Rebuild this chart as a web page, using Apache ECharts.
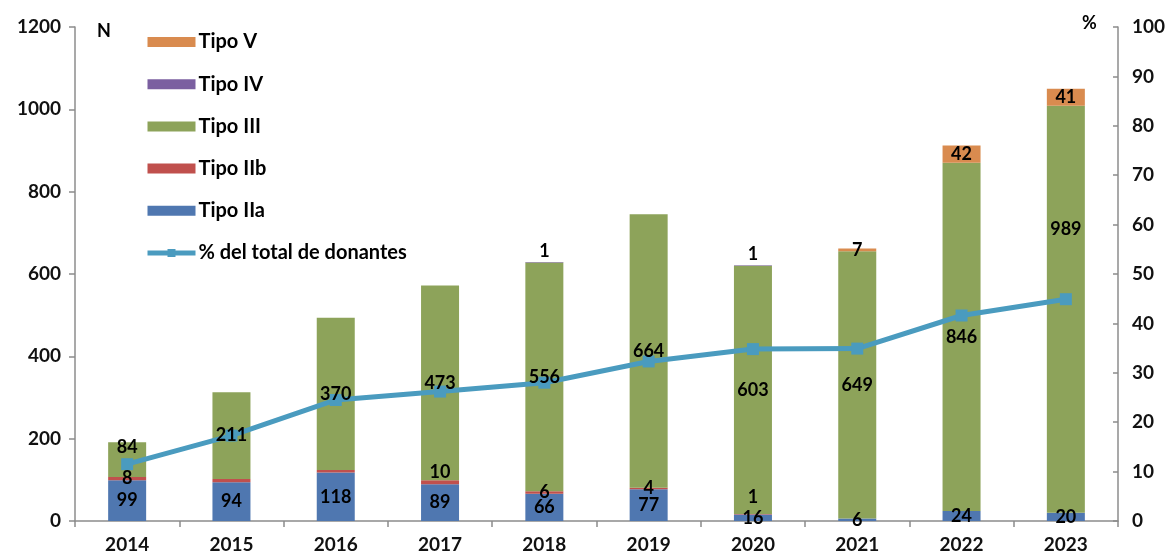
<!DOCTYPE html>
<html>
<head>
<meta charset="utf-8">
<script src="https://cdn.jsdelivr.net/npm/echarts@6/dist/echarts.min.js"></script>
<style>
  html, body { margin: 0; padding: 0; background: #fff; }
  #chart { width: 1173px; height: 560px; }
</style>
</head>
<body>
<div id="chart"></div>
<script>
// Donors by type per year (counts) and share of total donors (%)
const years = ['2014', '2015', '2016', '2017', '2018', '2019', '2020', '2021', '2022', '2023'];
const tipoIIa = [99, 94, 118, 89, 66, 77, 16, 6, 24, 20];
const tipoIIb = [8, 8, 6, 10, 6, 4, 1, 0, 0, 0];
const tipoIII = [84, 211, 370, 473, 556, 664, 603, 649, 846, 989];
const tipoIV = [0, 0, 0, 0, 1, 0, 1, 0, 0, 0];
const tipoV = [0, 0, 0, 0, 0, 0, 0, 7, 42, 41];
const pctDonantes = [11.5, 17.3, 24.5, 26.2, 28.0, 32.3, 34.8, 34.9, 41.6, 44.9];

const leftTicks = [0, 200, 400, 600, 800, 1000, 1200];
const rightTicks = [0, 10, 20, 30, 40, 50, 60, 70, 80, 90, 100];

const FONT = 'Lato, "Liberation Sans", sans-serif';
const labelFont = { fontFamily: FONT, fontWeight: 'bold', fontSize: 18, color: '#000' };
const axisFont = { fontFamily: FONT, fontWeight: 'bold', fontSize: 19, color: '#111', margin: 14 };

// values of zero carry no label
const hideZero = p => (p.value === 0 ? '' : String(p.value));

// Coloured stacked bars (no text)
function barSeries(name, values, color) {
  return {
    name: name,
    type: 'bar',
    stack: 'n',
    barWidth: 38,
    barGap: '-100%',
    yAxisIndex: 0,
    z: 2,
    itemStyle: { color: color },
    label: { show: false },
    data: values.slice()
  };
}

// Transparent twin stack carrying the value labels, drawn above the line
function labelSeries(name, values, label, tweaks) {
  tweaks = tweaks || {};
  return {
    name: name + ' (valores)',
    type: 'bar',
    stack: 'labels',
    barWidth: 38,
    barGap: '-100%',
    yAxisIndex: 0,
    z: 5,
    silent: true,
    itemStyle: { color: 'rgba(0,0,0,0)' },
    label: Object.assign({ show: true, formatter: hideZero }, labelFont, label || {}),
    data: values.map((v, i) => (tweaks[i] ? { value: v, label: tweaks[i] } : v))
  };
}

const chart = echarts.init(document.getElementById('chart'), null, { renderer: 'canvas' });

chart.setOption({
  animation: false,
  textStyle: { fontFamily: FONT },
  grid: { left: 75, right: 55, top: 27, bottom: 39, containLabel: false },
  legend: {
    orient: 'vertical',
    left: 145,
    top: 32,
    padding: 0,
    itemWidth: 48,
    itemHeight: 10,
    itemGap: 22.2,
    textStyle: { fontFamily: FONT, fontWeight: 'bold', fontSize: 20, color: '#000', padding: [0, 0, 0, -2] },
    data: [
      { name: 'Tipo V', icon: 'rect' },
      { name: 'Tipo IV', icon: 'rect' },
      { name: 'Tipo III', icon: 'rect' },
      { name: 'Tipo IIb', icon: 'rect' },
      { name: 'Tipo IIa', icon: 'rect' },
      { name: '% del total de donantes', lineStyle: { width: 5 } }
    ]
  },
  xAxis: {
    type: 'category',
    data: years,
    axisLine: { lineStyle: { color: '#8c8c8c', width: 1.5 } },
    axisTick: { show: true, length: 6, lineStyle: { color: '#8c8c8c', width: 1.5 } },
    axisLabel: axisFont
  },
  yAxis: [
    {
      type: 'value',
      min: leftTicks[0],
      max: leftTicks[leftTicks.length - 1],
      interval: leftTicks[1] - leftTicks[0],
      splitLine: { show: false },
      axisLine: { show: true, lineStyle: { color: '#8c8c8c', width: 1.5 } },
      axisTick: { show: true, length: 6, lineStyle: { color: '#8c8c8c', width: 1.5 } },
      axisLabel: Object.assign({ formatter: v => String(v) }, axisFont)
    },
    {
      type: 'value',
      position: 'right',
      min: rightTicks[0],
      max: rightTicks[rightTicks.length - 1],
      interval: rightTicks[1] - rightTicks[0],
      splitLine: { show: false },
      axisLine: { show: true, lineStyle: { color: '#8c8c8c', width: 1.5 } },
      axisTick: { show: true, inside: true, length: 5, lineStyle: { color: '#8c8c8c', width: 1.5 } },
      axisLabel: axisFont
    }
  ],
  graphic: [
    { type: 'text', left: 97, top: 22, style: { text: 'N', font: 'bold 18px ' + FONT, fill: '#000' } },
    { type: 'text', left: 1082, top: 14, style: { text: '%', font: 'bold 18px ' + FONT, fill: '#000' } }
  ],
  series: [
    barSeries('Tipo IIa', tipoIIa, '#4F77B0'),
    barSeries('Tipo IIb', tipoIIb, '#C0504D'),
    barSeries('Tipo III', tipoIII, '#8DA35A'),
    barSeries('Tipo IV', tipoIV, '#7B5FA0'),
    barSeries('Tipo V', tipoV, '#D98B4F'),
    {
      name: '% del total de donantes',
      type: 'line',
      yAxisIndex: 1,
      z: 3,
      data: pctDonantes,
      symbol: 'rect',
      symbolSize: 12,
      lineStyle: { color: '#4A9BBF', width: 5 },
      itemStyle: { color: '#4A9BBF' },
      label: { show: false }
    },
    labelSeries('Tipo IIa', tipoIIa, { position: 'inside' }),
    labelSeries('Tipo IIb', tipoIIb, { position: 'inside' }, {
      1: { show: false },
      2: { show: false },
      3: { offset: [0, -10] },
      6: { offset: [0, -17] }
    }),
    labelSeries('Tipo III', tipoIII, { position: 'inside' }, {
      0: { offset: [0, -12] },
      9: { offset: [0, -80] }
    }),
    labelSeries('Tipo IV', tipoIV, { position: 'top', distance: 2 }),
    labelSeries('Tipo V', tipoV, { position: 'inside' })
  ]
});
</script>
</body>
</html>
